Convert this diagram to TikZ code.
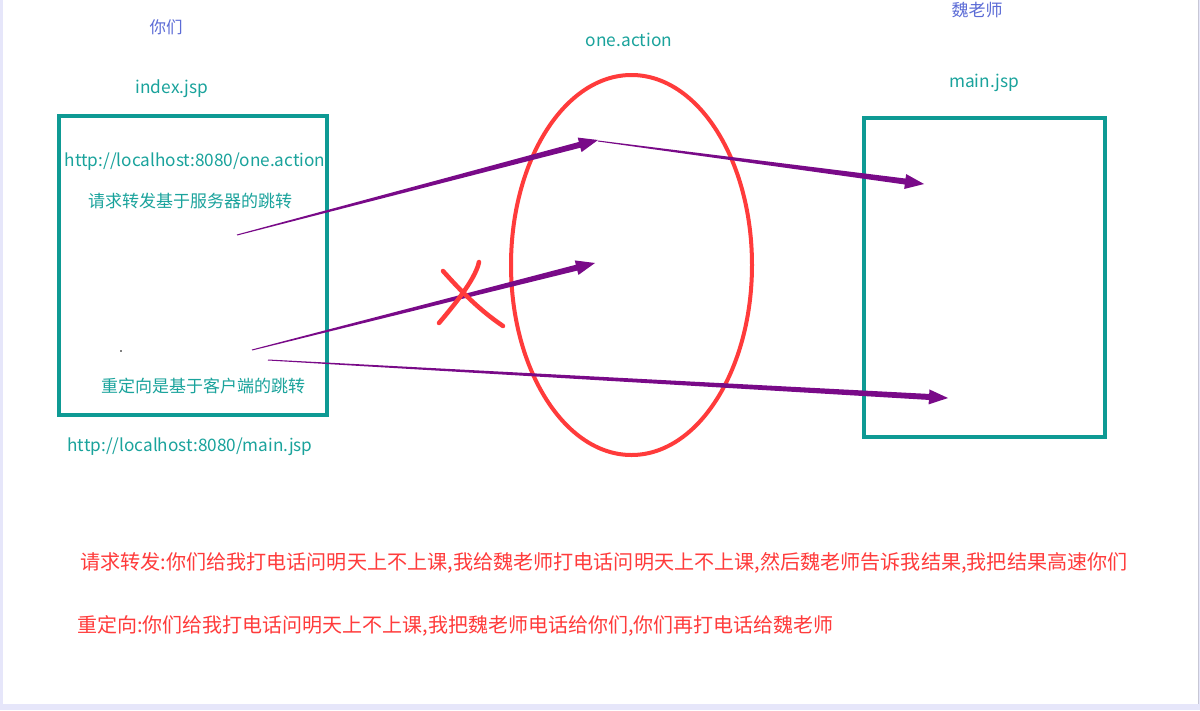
\documentclass[tikz,border=0pt]{standalone}
\usepackage{fontspec}
\setmainfont{Noto Sans CJK SC}
\usetikzlibrary{calc,shapes.geometric}
\definecolor{tealtxt}{HTML}{1AA39C}
\definecolor{tealbox}{HTML}{0E9A94}
\definecolor{bluetxt}{HTML}{5B6BD6}
\definecolor{purp}{HTML}{790A88}
\definecolor{redc}{HTML}{FF3B3B}
\definecolor{lav}{HTML}{E6E6FA}
% tapered arrow: start, tip, start half width, end half width, head length, head half width
\newcommand\taperarrow[6]{%
  \coordinate (hb) at ($(#2)!#5!(#1)$);
  \fill[purp] ($(#1)!#3!90:(#2)$) -- ($(hb)!#4!90:(#2)$) -- ($(hb)!#6!90:(#2)$) -- (#2)
    -- ($(hb)!#6!-90:(#2)$) -- ($(hb)!#4!-90:(#2)$) -- ($(#1)!#3!-90:(#2)$) -- cycle;
}
\tikzset{
  lbl/.style={inner sep=0pt, font=\fontsize{#1}{#1}\selectfont},
  teal label/.style={lbl=#1, text=tealtxt},
  blue label/.style={lbl=#1, text=bluetxt},
  red label/.style={lbl=#1, text=redc, anchor=west},
  pagebox/.style={draw=tealbox, line width=4pt, inner sep=0pt},
}
\begin{document}
\begin{tikzpicture}[x=1pt,y=-1pt]
\useasboundingbox (0,0) rectangle (1200,710);
\fill[lav] (0,0) rectangle (1200,710);
\fill[white] (2.5,0) rectangle (1198,703.5);
\draw[lav!70!gray, line width=0.4pt] (1198,0) -- (1198,703.5);

% titles
\node[blue label=16.5] (you) at (166,27) {你们};
\node[blue label=17] (wei) at (977,10) {魏老师};
\node[teal label=17.3] (index) at (172,89) {index.jsp};
\node[teal label=17.3] (oneact) at (629,40) {one.action};
\node[teal label=17.3] (mainjsp) at (984,83) {main.jsp};

% boxes
\node[pagebox, minimum width=268pt, minimum height=299pt] (lbox) at (193,265.5) {};
\node[pagebox, minimum width=241pt, minimum height=319pt] (rbox) at (984.5,277.5) {};
\node[ellipse, draw=redc, line width=4pt, inner sep=0pt, minimum width=241pt, minimum height=380pt] (oval) at (631.5,265) {};

% texts in left box
\node[teal label=17.2] (url1) at (195,162) {http://localhost:8080/one.action};
\node[teal label=17] (fwd) at (190,201) {请求转发基于服务器的跳转};
\node[teal label=17] (redir) at (203,386) {重定向是基于客户端的跳转};
\node[teal label=17.2] (url2) at (190,447) {http://localhost:8080/main.jsp};
\fill[black] (121,351) circle[radius=0.9];

% arrows
\coordinate (a1s) at (237,235);
\coordinate (a1t) at (598,140);
\coordinate (a2s) at (598,141);
\coordinate (a2t) at (924,184);
\coordinate (a3s) at (252,350);
\coordinate (a3t) at (595,263);
\coordinate (a4s) at (268,360);
\coordinate (a4t) at (948,398);
\taperarrow{a1s}{a1t}{0.5pt}{3pt}{19pt}{7.5pt}
\taperarrow{a2s}{a2t}{0.5pt}{3pt}{19pt}{7.5pt}
\taperarrow{a3s}{a3t}{0.5pt}{3pt}{19pt}{7.5pt}
\taperarrow{a4s}{a4t}{0.5pt}{3pt}{19pt}{7.5pt}

% red cross
\draw[redc, line width=4.5pt, line cap=round] (443,271) .. controls (460,290) and (478,309) .. (503,326);
\draw[redc, line width=4.5pt, line cap=round] (479,262) .. controls (476,276) and (462,296) .. (439,323);

% bottom notes
\node[red label=20.1] (note1) at (80,563) {请求转发:你们给我打电话问明天上不上课,我给魏老师打电话问明天上不上课,然后魏老师告诉我结果,我把结果高速你们};
\node[red label=20] (note2) at (77,626) {重定向:你们给我打电话问明天上不上课,我把魏老师电话给你们,你们再打电话给魏老师};
\end{tikzpicture}
\end{document}
